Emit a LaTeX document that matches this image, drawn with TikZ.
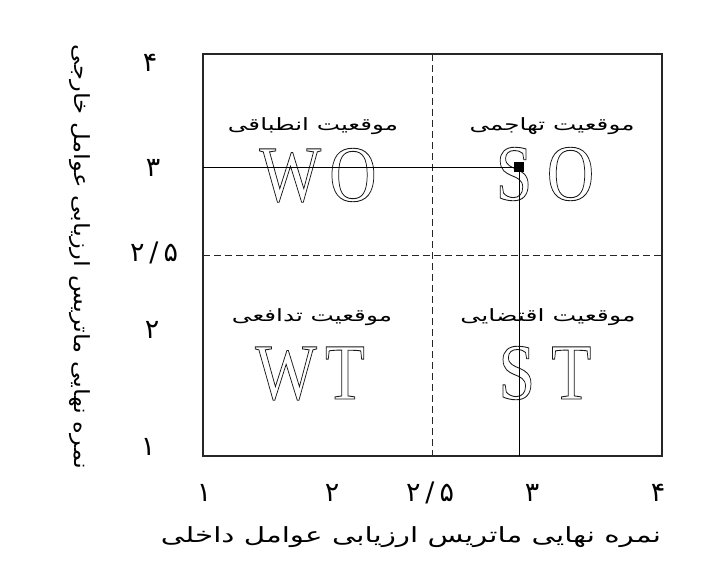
\documentclass[tikz,border=0pt]{standalone}
\usepackage{fontspec}
\usepackage{graphicx}
\TeXXeTstate=1
\newfontfamily\arabicfont[Script=Arabic]{DejaVu Sans}
\newfontfamily\bigserif{Liberation Serif}
\newcommand{\fa}[1]{\beginR #1\endR}
\newcommand{\hollow}[1]{\special{pdf:literal direct q 1 Tr 0.9 w 0.1 G}#1\special{pdf:literal direct Q}}
\newcommand{\pair}[3]{\scalebox{0.82}[1]{\hollow{#1\kern#3#2}}}
\begin{document}
\begin{tikzpicture}[x=1bp,y=-1bp,
  frame/.style={line width=1.2bp,draw=black!85},
  divider/.style={line width=0.9bp,draw=black!85,dash pattern=on 7bp off 4bp},
  marker/.style={line width=0.9bp,draw=black},
  qlabel/.style={font=\arabicfont\fontsize{17}{17}\selectfont,inner sep=0pt},
  biglet/.style={font=\bigserif\fontsize{80}{80}\selectfont,inner sep=0pt,anchor=base,text=black!90},
  ticklab/.style={font=\arabicfont\fontsize{27}{27}\selectfont,inner sep=0pt},
  axtitle/.style={font=\arabicfont\fontsize{21}{21}\selectfont,inner sep=0pt}]
\fill[white] (0,0) rectangle (718,580);
\useasboundingbox (0,0) rectangle (718,580);
% frame and dividers
\draw[frame] (203,54) rectangle (662,456);
\coordinate (dvt) at (432,54);
\coordinate (dvb) at (432,456);
\coordinate (dhl) at (203,255);
\coordinate (dhr) at (664,255);
\draw[divider] (dvt) -- (dvb);
\draw[divider] (dhl) -- (dhr);
% quadrant labels
\node[qlabel] (qwo) at (313,126) {\resizebox{170bp}{\height}{\fa{موقعیت انطباقی}}};
\node[qlabel] (qso) at (552,126) {\resizebox{165bp}{\height}{\fa{موقعیت تهاجمی}}};
\node[qlabel] (qwt) at (312,317) {\resizebox{160bp}{\height}{\fa{موقعیت تدافعی}}};
\node[qlabel] (qst) at (548,317) {\resizebox{175bp}{\height}{\fa{موقعیت اقتضایی}}};
% big letters
\node[biglet] (wo) at (318,201) {\pair{W}{O}{10bp}};
\node[biglet] (so) at (545,200) {\pair{S}{O}{18bp}};
\node[biglet] (wt) at (310,399) {\pair{W}{T}{10bp}};
\node[biglet] (st) at (545,399) {\pair{S}{T}{20bp}};
% position marker
\node[fill=black,minimum size=10bp,inner sep=0pt] (sq) at (519,167) {};
\coordinate (hl) at (203,167);
\coordinate (vb) at (519,456);
\draw[marker] (hl) -- (sq.center);
\draw[marker] (sq.center) -- (vb);
% x ticks
\node[ticklab] (x1) at (204,493) {۱};
\node[ticklab] (x2) at (332,493) {۲};
\node[ticklab] (x25) at (430,493) {۲\kern5bp/\kern5bp۵};
\node[ticklab] (x3) at (532,493) {۳};
\node[ticklab] (x4) at (658,493) {۴};
% y ticks
\node[ticklab] (y4) at (150,63) {۴};
\node[ticklab] (y3) at (153,168) {۳};
\node[ticklab] (y25) at (154,253) {۲\kern5bp/\kern5bp۵};
\node[ticklab] (y2) at (152,330) {۲};
\node[ticklab] (y1) at (148,447) {۱};
% axis titles
\node[axtitle] (xt) at (411,537) {\resizebox{500bp}{\height}{\fa{نمره نهایی ماتریس ارزیابی عوامل داخلی}}};
\node[axtitle,rotate=-90] (yt) at (80,257) {\resizebox{424bp}{\height}{\fa{نمره نهایی ماتریس ارزیابی عوامل خارجی}}};
\end{tikzpicture}
\end{document}
